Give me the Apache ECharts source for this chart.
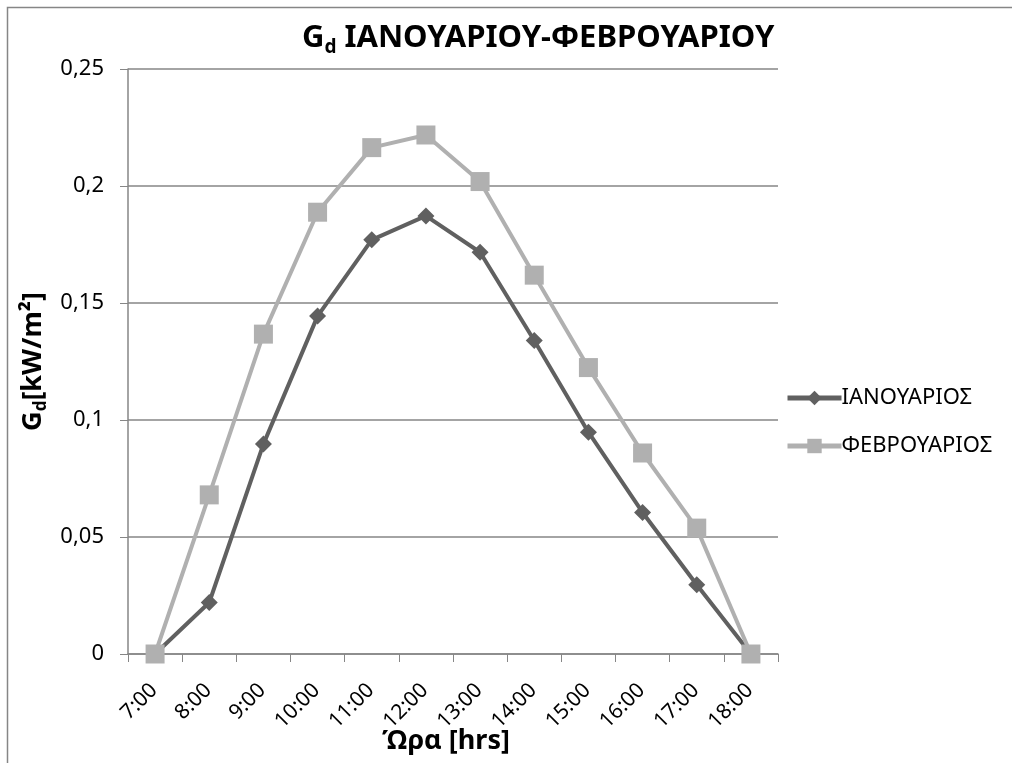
<!DOCTYPE html>
<html lang="el">
<head>
<meta charset="UTF-8">
<title>Gd ΙΑΝΟΥΑΡΙΟΥ-ΦΕΒΡΟΥΑΡΙΟΥ</title>
<script src="https://cdn.jsdelivr.net/npm/echarts@6/dist/echarts.min.js"></script>
<style>
  html, body { margin: 0; padding: 0; background: #fff; }
  #main { width: 1012px; height: 763px; }
</style>
</head>
<body>
<div id="main"></div>
<script>
// ώρες (κατηγορίες άξονα x)
var hours = ['7:00', '8:00', '9:00', '10:00', '11:00', '12:00', '13:00', '14:00', '15:00', '16:00', '17:00', '18:00'];
// Gd σε kW/m2, διαβασμένα από το γράφημα
var janValues = [0, 0.022, 0.0897, 0.1444, 0.177, 0.1872, 0.1717, 0.134, 0.0948, 0.0605, 0.0296, 0];
var febValues = [0, 0.068, 0.1367, 0.1888, 0.2164, 0.2218, 0.2019, 0.1619, 0.1224, 0.0859, 0.0538, 0];
var seriesNames = ['ΙΑΝΟΥΑΡΙΟΣ', 'ΦΕΒΡΟΥΑΡΙΟΣ'];

var font = 'Noto Sans';
var axisGray = '#868686';

var myChart = echarts.init(document.getElementById('main'));
var option = {
    backgroundColor: '#fff',
    animation: false,
    title: {
        text: '{b|G}{s|d}{b| ΙΑΝΟΥΑΡΙΟΥ-ΦΕΒΡΟΥΑΡΙΟΥ}',
        left: 297,
        top: 15,
        textStyle: {
            rich: {
                b: { fontFamily: font, fontWeight: 'bold', fontSize: 31, color: '#000' },
                s: { fontFamily: font, fontWeight: 'bold', fontSize: 19, color: '#000', padding: [18, 0, 0, 0] }
            }
        }
    },
    graphic: [{
        type: 'rect',
        shape: { x: 7.5, y: 7.5, width: 1100, height: 1000 },
        style: { fill: 'none', stroke: axisGray, lineWidth: 1.5 },
        silent: true
    }],
    legend: {
        orient: 'vertical',
        left: 780,
        top: 382,
        itemWidth: 54,
        itemHeight: 18,
        itemGap: 26,
        lineStyle: { width: 5 },
        textStyle: { fontFamily: font, fontSize: 22, color: '#000', padding: [0, 0, 0, -5] },
        data: seriesNames
    },
    grid: { left: 128, right: 234, top: 69, bottom: 109, outerBoundsMode: 'none' },
    xAxis: {
        type: 'category',
        data: hours,
        boundaryGap: true,
        name: 'Ώρα [hrs]',
        nameLocation: 'middle',
        nameGap: 74,
        nameMoveOverlap: false,
        nameTextStyle: { fontFamily: font, fontWeight: 'bold', fontSize: 27, color: '#000', padding: [0, 14, 0, 0] },
        axisLine: { lineStyle: { color: axisGray, width: 1.5 } },
        axisTick: { show: true, length: 8, alignWithLabel: false, lineStyle: { color: axisGray } },
        axisLabel: {
            rotate: 45, fontFamily: font, fontSize: 21, color: '#000',
            margin: 17, align: 'right', verticalAlign: 'top', padding: [0, 12, 0, 0]
        }
    },
    yAxis: {
        type: 'value',
        min: 0,
        max: 0.25,
        interval: 0.05,
        name: '{b|G}{s|d}{b|[kW/m²]}',
        nameLocation: 'middle',
        nameRotate: 90,
        nameGap: 78,
        nameTextStyle: {
            rich: {
                b: { fontFamily: font, fontWeight: 'bold', fontSize: 27, color: '#000' },
                s: { fontFamily: font, fontWeight: 'bold', fontSize: 17, color: '#000', padding: [16, 0, 0, 0] }
            }
        },
        axisLine: { show: true, lineStyle: { color: axisGray, width: 1.5 } },
        axisTick: { show: true, length: 8, lineStyle: { color: axisGray } },
        splitLine: { lineStyle: { color: axisGray, width: 1.5 } },
        axisLabel: {
            fontFamily: font,
            fontSize: 22,
            color: '#000',
            margin: 24,
            formatter: function (v) { return String(Math.round(v * 100) / 100).replace('.', ','); }
        }
    },
    series: [
        {
            name: seriesNames[0],
            type: 'line',
            data: janValues,
            symbol: 'diamond',
            symbolSize: 17,
            color: '#606060',
            lineStyle: { width: 4, color: '#606060' },
            itemStyle: { color: '#606060' },
            z: 3
        },
        {
            name: seriesNames[1],
            type: 'line',
            data: febValues,
            symbol: 'rect',
            symbolSize: 19,
            color: '#b0b0b0',
            lineStyle: { width: 4, color: '#b0b0b0' },
            itemStyle: { color: '#b0b0b0' },
            z: 4
        }
    ]
};
myChart.setOption(option);
</script>
</body>
</html>
